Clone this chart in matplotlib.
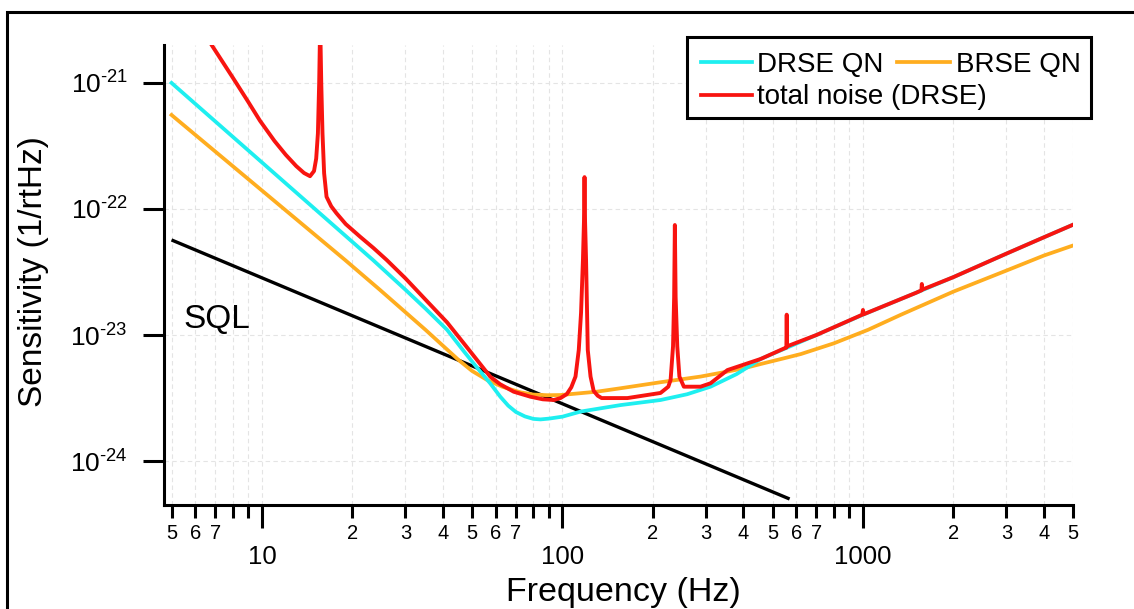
import matplotlib
matplotlib.use('Agg')
import matplotlib.pyplot as plt
from matplotlib.ticker import FixedLocator, FixedFormatter, NullLocator
from matplotlib.patches import Rectangle
from matplotlib.lines import Line2D

plt.rcParams['font.family'] = ['Liberation Sans', 'DejaVu Sans']
plt.rcParams['mathtext.fontset'] = 'custom'
plt.rcParams['mathtext.rm'] = 'Liberation Sans'
plt.rcParams['mathtext.it'] = 'Liberation Sans:italic'
plt.rcParams['mathtext.bf'] = 'Liberation Sans:bold'

# ── Data ──────────────────────────────────────────────────────────────────────
sql_f = [5, 570]
sql_h = [5.68e-23, 5.0e-25]

drse_f = [5, 23.4, 30, 35, 41.3, 47, 52, 57.5, 62.1, 66, 70, 75, 80, 84.5, 90,
          100, 115, 156, 212, 260, 311, 380, 457,
          700, 1000, 1500, 2000, 3000, 4000, 5000]
drse_h = [1.00e-21, 3.94e-23, 2.29e-23, 1.62e-23, 1.10e-23, 7.41e-24, 5.50e-24,
          4.13e-24, 3.24e-24, 2.75e-24, 2.45e-24, 2.26e-24, 2.16e-24, 2.14e-24,
          2.17e-24, 2.25e-24, 2.47e-24, 2.78e-24, 3.05e-24, 3.39e-24, 3.89e-24,
          4.90e-24, 6.46e-24,
          1.00e-23, 1.45e-23, 2.16e-23, 2.88e-23, 4.42e-23, 5.96e-23, 7.50e-23]

brse_f = [5, 18.9, 24.7, 35, 45.1, 50, 56.1, 63, 72.4, 80, 89, 98.5, 130, 156,
          212, 288, 354, 401, 457, 545, 621, 800, 1040, 1339, 2000, 3035, 4000, 5000]
brse_h = [5.57e-22, 3.94e-23, 2.28e-23, 1.10e-23, 6.34e-24, 5.19e-24, 4.40e-24,
          3.89e-24, 3.51e-24, 3.37e-24, 3.33e-24, 3.34e-24, 3.55e-24, 3.78e-24,
          4.22e-24, 4.68e-24, 5.13e-24, 5.44e-24, 5.89e-24, 6.53e-24, 7.06e-24,
          8.59e-24, 1.10e-23, 1.45e-23, 2.21e-23, 3.28e-23, 4.27e-23, 5.13e-23]

total_f = [6.8, 8.0, 9.0, 9.85, 11.0, 12.0, 13.0, 13.8, 14.45, 14.9, 15.15, 15.35,
           15.5, 15.62, 15.75, 15.9, 16.1, 16.4, 17.0, 17.7, 19.0, 21.2, 23.5, 26.0,
           30, 35, 41.3, 48, 57.5, 62, 68.8, 78.2, 86, 93.5,
           98.5, 103.4, 107, 110.5, 113.3, 115.3, 117.0, 117.9, 118.4, 118.9, 119.8,
           121.4, 124, 127, 131, 135, 164.5, 212,
           225, 229, 233.3, 235.3, 236.6, 238, 241, 245, 253.5, 288, 311, 354,
           457, 547, 556, 557.5, 559, 700, 995, 1000, 1005, 1500, 1565, 1570,
           1575, 2000, 3000, 4000, 5000]
total_h = [2.00e-21, 1.10e-21, 7.08e-22, 5.01e-22, 3.47e-22, 2.69e-22, 2.19e-22,
           1.93e-22, 1.82e-22, 2.00e-22, 2.51e-22, 3.98e-22,
           1.00e-21, 3.0e-21, 1.00e-21, 3.98e-22, 1.92e-22, 1.25e-22, 1.05e-22,
           9.25e-23, 7.59e-23, 6.03e-23, 4.90e-23, 3.94e-23,
           2.82e-23, 1.91e-23, 1.26e-23, 8.04e-24, 4.67e-24, 4.07e-24, 3.55e-24,
           3.24e-24, 3.09e-24, 3.05e-24,
           3.16e-24, 3.40e-24, 3.85e-24, 4.68e-24, 7.60e-24, 1.50e-23, 3.98e-23,
           7.94e-23, 1.79e-22, 7.94e-23, 3.98e-23,
           7.60e-24, 4.68e-24, 3.60e-24, 3.30e-24, 3.16e-24, 3.16e-24, 3.47e-24,
           3.89e-24, 4.40e-24, 8.13e-24, 2.00e-23, 7.46e-23, 2.00e-23, 8.13e-24,
           4.68e-24, 3.89e-24, 3.89e-24, 4.14e-24, 5.27e-24,
           6.46e-24, 7.83e-24, 7.94e-24, 1.45e-23, 8.13e-24, 1.00e-23, 1.45e-23,
           1.58e-23, 1.46e-23, 2.16e-23, 2.26e-23, 2.54e-23,
           2.29e-23, 2.88e-23, 4.42e-23, 5.96e-23, 7.50e-23]

major_ticks = [10, 100, 1000]
major_labels = ['10', '100', '1000']
minor_ticks = [5, 6, 7, 8, 9,
               20, 30, 40, 50, 60, 70, 80, 90,
               200, 300, 400, 500, 600, 700, 800, 900,
               2000, 3000, 4000, 5000]
minor_labels = ['5', '6', '7', '', '',
                '2', '3', '4', '5', '6', '7', '', '',
                '2', '3', '4', '5', '6', '7', '', '',
                '2', '3', '4', '5']
y_ticks = [1e-24, 1e-23, 1e-22, 1e-21]
y_labels = [r'$\mathregular{10^{\text{-}24}}$', r'$\mathregular{10^{\text{-}23}}$',
            r'$\mathregular{10^{\text{-}22}}$', r'$\mathregular{10^{\text{-}21}}$']

CYAN = '#1EEFF0'
ORANGE = '#FFAD1F'
RED = '#F81410'
BLACK = '#000000'

W, H = 1134, 609
fig = plt.figure(figsize=(W / 100, H / 100), dpi=100)
ax = fig.add_axes([164 / W, 1 - 505 / H, (1073 - 164) / W, (505 - 45) / H])

ax.plot(sql_f, sql_h, color=BLACK, lw=2.4, solid_capstyle='butt')
ax.plot(brse_f, brse_h, color=ORANGE, lw=2.7)
ax.plot(drse_f, drse_h, color=CYAN, lw=2.7)
ax.plot(total_f, total_h, color=RED, lw=2.8)

ax.set_xscale('log')
ax.set_yscale('log')
ax.set_xlim(4.72, 5000)
ax.set_ylim(4.48e-25, 2.0e-21)

ax.xaxis.set_major_locator(FixedLocator(major_ticks))
ax.xaxis.set_major_formatter(FixedFormatter(major_labels))
ax.xaxis.set_minor_locator(FixedLocator(minor_ticks))
ax.xaxis.set_minor_formatter(FixedFormatter(minor_labels))
ax.yaxis.set_major_locator(FixedLocator(y_ticks))
ax.yaxis.set_major_formatter(FixedFormatter(y_labels))
ax.yaxis.set_minor_locator(NullLocator())

ax.tick_params(axis='x', which='major', length=16.5, width=2.2, pad=12, labelsize=18.5)
ax.tick_params(axis='x', which='minor', length=9.4, width=2.2, pad=4, labelsize=14.5)
ax.tick_params(axis='y', which='major', length=15, width=2.2, pad=11, labelsize=19)

for side in ['top', 'right']:
    ax.spines[side].set_visible(False)
for side in ['left', 'bottom']:
    ax.spines[side].set_linewidth(2.2)

ax.set_axisbelow(True)
ax.grid(which='major', axis='both', color='#e4e4e4', linestyle=(0, (4, 3)), lw=0.8)
ax.grid(which='minor', axis='x', color='#e4e4e4', linestyle=(0, (4, 3)), lw=0.8)

ax.text(19 / 909, 1 - (328 - 45) / 460, 'SQL', transform=ax.transAxes,
        fontsize=24, ha='left', va='baseline')

fig.text(623 / W, 1 - 592 / H, 'Frequency (Hz)', ha='center', va='center', fontsize=24.5)
fig.text(34 / W, 1 - 272 / H, 'Sensitivity (1/rtHz)', ha='center', va='center',
         rotation=90, fontsize=24)

# hand-built legend (two entries on the first row, one on the second)
fig.add_artist(Rectangle((687 / W, 1 - 118.3 / H), (1090.7 - 687) / W, (118.3 - 36.7) / H,
                         transform=fig.transFigure, facecolor='white', edgecolor='black',
                         lw=2.2, zorder=5))
legend_rows = [(CYAN, 700.7, 751.7, 62.3, 'DRSE QN', 757, 71.7),
               (ORANGE, 897, 950, 62.3, 'BRSE QN', 956, 71.7),
               (RED, 700.7, 751.7, 95, 'total noise (DRSE)', 757, 104)]
for col, x0, x1, ly, label, tx, ty in legend_rows:
    fig.add_artist(Line2D([x0 / W, x1 / W], [1 - ly / H, 1 - ly / H], color=col, lw=2.7,
                          transform=fig.transFigure, zorder=6))
    fig.text(tx / W, 1 - ty / H, label, ha='left', va='baseline', fontsize=20, zorder=6)

# figure frame (cut off at the right and bottom edges)
fig.add_artist(Rectangle((7 / W, -0.5), 2.0, 0.5 + 1 - 11.5 / H, transform=fig.transFigure,
                         fill=False, edgecolor='black', lw=2.2, zorder=7))

fig.savefig('out.png', dpi=100)
